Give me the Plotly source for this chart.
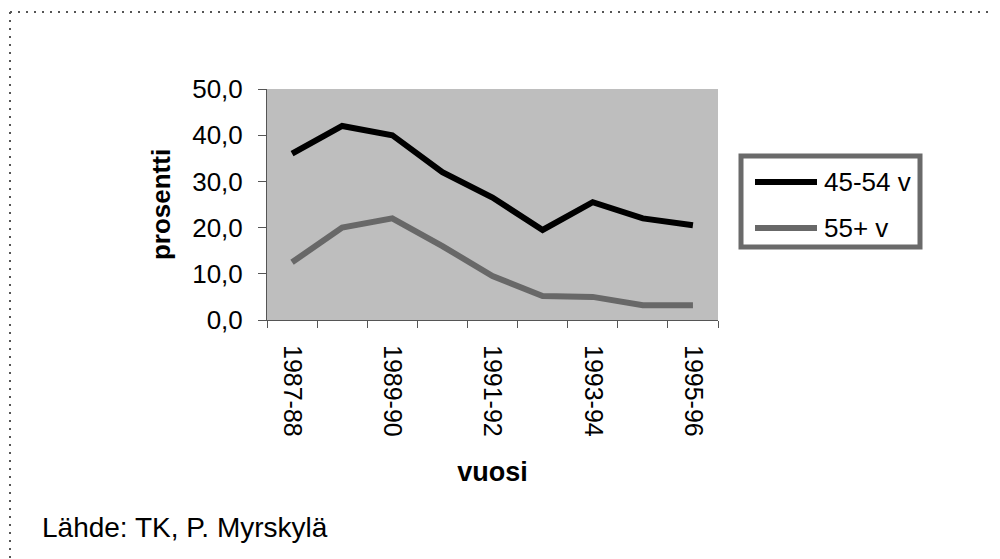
import plotly.graph_objects as go

# data
vuodet = ["1987-88", "1988-89", "1989-90", "1990-91", "1991-92",
          "1992-93", "1993-94", "1994-95", "1995-96"]
ika_45_54 = [36.0, 42.0, 40.0, 32.0, 26.5, 19.5, 25.5, 22.0, 20.5]
ika_55 = [12.5, 20.0, 22.0, 16.0, 9.5, 5.2, 5.0, 3.2, 3.2]
sarjat = ["45-54 v", "55+ v"]
y_ticks = [0, 10, 20, 30, 40, 50]

FONT = "Arial, Liberation Sans, sans-serif"
MUSTA = "#000000"
HARMAA = "#686868"

# page body has an 8px margin, so everything is shifted by that much
OFF = 8
W, H = 1000 - OFF, 559 - OFF
# plot area in page pixels: x 267..718, y 89..320
L, R, T, B = 267 - OFF, 718 - OFF, 89 - OFF, 320 - OFF


def px(x):
    return (x - OFF - L) / (R - L)


def py(y):
    return (B - (y - OFF)) / (B - T)


fig = go.Figure()
fig.add_trace(go.Scatter(x=vuodet, y=ika_45_54, mode="lines", name=sarjat[0],
                         line=dict(color=MUSTA, width=6)))
fig.add_trace(go.Scatter(x=vuodet, y=ika_55, mode="lines", name=sarjat[1],
                         line=dict(color=HARMAA, width=6)))

# legend drawn by hand so its box and long line samples match the original
shapes = [
    dict(type="line", xref="paper", yref="paper",
         x0=px(10), x1=px(1000), y0=py(12), y1=py(12),
         line=dict(color="#555", width=2, dash="2px,6px")),
    dict(type="line", xref="paper", yref="paper",
         x0=px(10), x1=px(10), y0=py(12), y1=py(559),
         line=dict(color="#555", width=2, dash="2px,6px")),
    dict(type="rect", xref="paper", yref="paper",
         x0=px(741), x1=px(920), y0=py(156), y1=py(247),
         fillcolor="white", line=dict(color="#6a6a6a", width=5)),
]
annotations = [
    dict(text="Lähde: TK, P. Myrskylä", xref="paper", yref="paper",
         x=px(40), y=py(527), xanchor="left", yanchor="middle",
         showarrow=False, font=dict(size=28)),
]
for nimi, vari, rivi in zip(sarjat, [MUSTA, HARMAA], [182, 228]):
    shapes.append(dict(type="line", xref="paper", yref="paper",
                       x0=px(755), x1=px(817), y0=py(rivi), y1=py(rivi),
                       line=dict(color=vari, width=6)))
    annotations.append(dict(text=nimi, xref="paper", yref="paper",
                            x=px(822), y=py(rivi), xanchor="left",
                            yanchor="middle", showarrow=False,
                            font=dict(size=26)))

fig.update_layout(
    width=W, height=H,
    margin=dict(l=L, r=W - R, t=T, b=H - B),
    paper_bgcolor="white",
    plot_bgcolor="#bebebe",
    separators=", ",
    font=dict(family=FONT, size=24, color="black"),
    showlegend=False,
    xaxis=dict(
        type="category",
        range=[-0.5, len(vuodet) - 0.5],
        tickmode="array",
        tickvals=vuodet,
        ticktext=[v if i % 2 == 0 else "" for i, v in enumerate(vuodet)],
        tickson="boundaries",
        ticks="outside", ticklen=7, tickcolor="#555",
        tickangle=90,
        ticklabelstandoff=19,
        tickfont=dict(size=25),
        showgrid=False, zeroline=False,
        showline=True, linecolor="#555", linewidth=1,
        title=dict(text="<b>vuosi</b>", font=dict(size=27), standoff=26),
    ),
    yaxis=dict(
        range=[0, 50],
        tickvals=y_ticks,
        tickformat=".1f",
        ticks="outside", ticklen=8, tickcolor="#555",
        ticklabelstandoff=10,
        tickfont=dict(size=26),
        showgrid=False, zeroline=False,
        showline=True, linecolor="#555", linewidth=1,
        title=dict(text="<b>prosentti</b>", font=dict(size=26), standoff=14),
    ),
    shapes=shapes,
    annotations=annotations,
)

fig.write_html("out.html")
